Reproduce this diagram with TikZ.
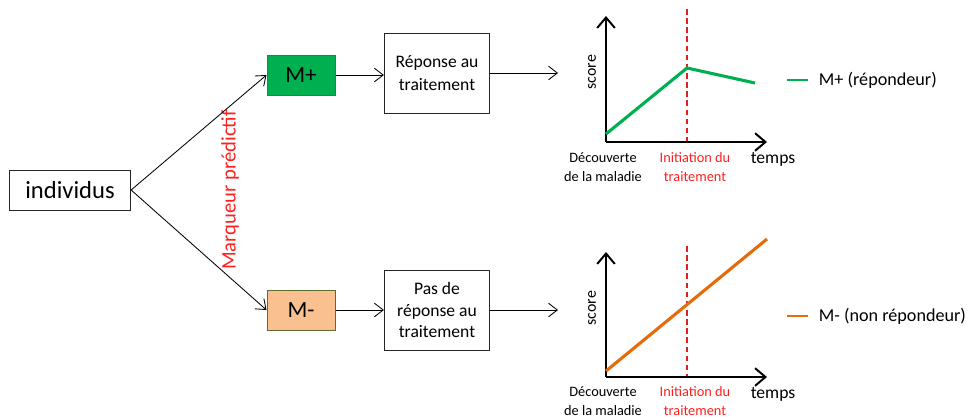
\documentclass[tikz,border=0pt]{standalone}
\usepackage{fontspec}
\setmainfont{Carlito}
\usetikzlibrary{arrows.meta,positioning}
\definecolor{mgreen}{HTML}{00B050}
\definecolor{morange}{HTML}{E46C0A}
\definecolor{mpeach}{HTML}{FAC090}
\definecolor{mred}{HTML}{FF2020}
\definecolor{mdash}{HTML}{E02020}
\definecolor{mborder}{HTML}{5E6B2E}
\tikzset{
  box/.style={rectangle,draw=black!85,line width=0.7pt,align=center,inner sep=0pt},
  flow/.style={-{Straight Barb[length=2.2mm,width=3.4mm]},line width=0.6pt},
  axis/.style={-{Straight Barb[length=2.6mm,width=4.4mm]},line width=1.4pt},
  dashline/.style={draw=mdash,dash pattern=on 4pt off 2.5pt,line width=0.9pt},
  small/.style={align=center,font=\fontsize{10.2}{13.5}\selectfont},
}
\begin{document}
\begin{tikzpicture}[x=0.025cm,y=-0.025cm]
\useasboundingbox (0,0) rectangle (970,417);
% Marqueur
\node[box,minimum width=3.03cm,minimum height=1cm,font=\fontsize{17.5}{20}\selectfont] (ind) at (70,190) {individus};
\node[box,draw=mborder,fill=mgreen,minimum width=1.7cm,minimum height=1cm,font=\fontsize{16.5}{18}\selectfont] (mplus) at (301,75) {M+};
\node[box,draw=mborder,fill=mpeach,minimum width=1.7cm,minimum height=1cm,font=\fontsize{16.5}{18}\selectfont] (mminus) at (301,310) {M-};
\node[rotate=90,text=mred,font=\fontsize{14.7}{16}\selectfont] (marq) at (230,190) {Marqueur prédictif};
\draw[flow] (ind.east) -- (mplus.west);
\draw[flow] (ind.east) -- (mminus.west);

% Reponse
\node[box,minimum width=2.63cm,minimum height=2cm,font=\fontsize{12.5}{16}\selectfont] (rep) at (437,73) {Réponse au\\traitement};
\node[box,minimum width=2.63cm,minimum height=2cm,font=\fontsize{12.5}{15.2}\selectfont] (norep) at (437,310) {Pas de\\réponse au\\traitement};
\coordinate (rep in) at (558,73);
\coordinate (norep in) at (558,310);
\draw[flow] (mplus) -- (mplus -| rep.west);
\draw[flow] (mminus) -- (mminus -| norep.west);
\draw[flow] (rep) -- (rep in);
\draw[flow] (norep) -- (norep in);

% Courbe M+
\coordinate (o1) at (606,142);
\draw[dashline] (687,9) -- (687,142);
\draw[axis] (o1) -- (606,16);
\draw[axis] (o1) -- (767,142);
\draw[mgreen,line width=2.2pt] (606,134) -- (687,68) -- (755,83);
\node[small] (dec1) at (603,167) {Découverte\\de la maladie};
\node[small,text=mred] (init1) at (695,167) {Initiation du\\traitement};
\node[font=\fontsize{12.5}{14}\selectfont] (temps1) at (773,159) {temps};
\node[rotate=90,font=\fontsize{11.3}{13}\selectfont] (score1) at (592,72) {score};
\draw[mgreen,line width=1.6pt] (787,80) -- (808,80);
\node[anchor=west,font=\fontsize{12.9}{14}\selectfont] (leg1) at (814,80) {M+ (répondeur)};

% Courbe M-
\coordinate (o2) at (606,377);
\draw[dashline] (687,246) -- (687,377);
\draw[axis] (o2) -- (606,252);
\draw[axis] (o2) -- (767,377);
\draw[morange,line width=2.2pt] (606,371) -- (767,239);
\node[small] (dec2) at (603,401) {Découverte\\de la maladie};
\node[small,text=mred] (init2) at (695,401) {Initiation du\\traitement};
\node[font=\fontsize{12.5}{14}\selectfont] (temps2) at (773,394) {temps};
\node[rotate=90,font=\fontsize{11.3}{13}\selectfont] (score2) at (592,308) {score};
\draw[morange,line width=1.6pt] (787,316) -- (808,316);
\node[anchor=west,font=\fontsize{12.9}{14}\selectfont] (leg2) at (814,316) {M- (non répondeur)};
\end{tikzpicture}
\end{document}
